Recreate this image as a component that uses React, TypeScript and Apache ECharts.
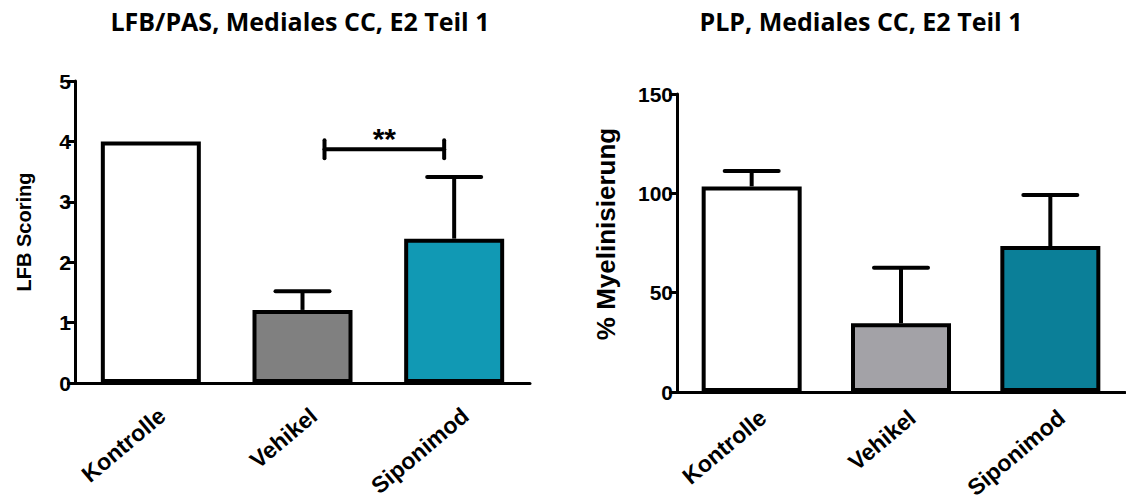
import React, { useEffect, useRef } from 'react';
import * as echarts from 'echarts';

const categories = ['Kontrolle', 'Vehikel', 'Siponimod'];

const lfbTitle = 'LFB/PAS, Mediales CC, E2 Teil 1';
const lfbAxisName = 'LFB Scoring';
const lfbMeans = [4, 1.21, 2.39];
const lfbErrors = [0, 0.31, 1.02];
const lfbColors = ['#ffffff', '#808080', '#1199b4'];
const lfbMin = 0;
const lfbMax = 5;
const lfbInterval = 1;

const sigPair = [1, 2];
const sigLevel = 3.87;
const sigLabel = '**';

const plpTitle = 'PLP, Mediales CC, E2 Teil 1';
const plpAxisName = '% Myelinisierung';
const plpMeans = [103.5, 34.6, 73.5];
const plpErrors = [7.7, 27.9, 25.6];
const plpColors = ['#ffffff', '#a3a2a7', '#0b7f98'];
const plpMin = 0;
const plpMax = 150;
const plpInterval = 50;

const FONT = 'Liberation Sans, Arial, sans-serif';

function errorRender(params: any, api: any) {
  const idx = api.value(0);
  const mean = api.value(1);
  const top = api.value(2);
  if (top <= mean) return { type: 'group', children: [] };
  const p0 = api.coord([idx, mean]);
  const p1 = api.coord([idx, top]);
  const half = 27;
  const style = { stroke: '#000', lineWidth: 4, lineCap: 'round' };
  return {
    type: 'group',
    children: [
      { type: 'line', shape: { x1: p0[0], y1: p0[1], x2: p1[0], y2: p1[1] }, style: { stroke: '#000', lineWidth: 4 } },
      { type: 'line', shape: { x1: p1[0] - half, y1: p1[1], x2: p1[0] + half, y2: p1[1] }, style },
    ],
  };
}

function sigRender(params: any, api: any) {
  const a = api.coord([api.value(0), api.value(2)]);
  const b = api.coord([api.value(1), api.value(2)]);
  const x1 = a[0] + 22;
  const x2 = b[0] - 10;
  const y = a[1];
  const style = { stroke: '#000', lineWidth: 4, lineCap: 'round' };
  return {
    type: 'group',
    children: [
      { type: 'line', shape: { x1, y1: y, x2, y2: y }, style },
      { type: 'line', shape: { x1, y1: y - 9, x2: x1, y2: y + 9 }, style },
      { type: 'line', shape: { x1: x2, y1: y - 9, x2, y2: y + 9 }, style },
      {
        type: 'text',
        style: {
          text: sigLabel,
          x: (x1 + x2) / 2,
          y: y - 26,
          textAlign: 'center',
          textVerticalAlign: 'top',
          font: 'bold 30px ' + FONT,
          fill: '#000',
        },
      },
    ],
  };
}

function makeX(gridIndex: number, margin: number) {
  return {
    type: 'category',
    gridIndex,
    data: categories,
    axisLine: { lineStyle: { color: '#000', width: 3 } },
    axisTick: { alignWithLabel: true, length: 8, lineStyle: { color: '#000', width: 3 } },
    axisLabel: {
      rotate: 40,
      margin,
      verticalAlign: 'top',
      padding: [6, 0, 0, 0],
      color: '#000',
      fontFamily: FONT,
      fontWeight: 'bold',
      fontSize: 23,
      interval: 0,
    },
    splitLine: { show: false },
  };
}

function makeY(gridIndex: number, name: string, min: number, max: number, interval: number, nameGap: number, nameSize: number, namePad: number[]) {
  return {
    type: 'value',
    gridIndex,
    min,
    max,
    interval,
    name,
    nameLocation: 'middle',
    nameGap,
    nameTextStyle: { color: '#000', fontFamily: FONT, fontWeight: 'bold', fontSize: nameSize, padding: namePad },
    axisLine: { show: true, lineStyle: { color: '#000', width: 3 } },
    axisTick: { show: true, length: 8, lineStyle: { color: '#000', width: 3 } },
    axisLabel: { margin: 4, color: '#000', fontFamily: FONT, fontWeight: 'bold', fontSize: 21 },
    splitLine: { show: false },
  };
}

function barData(means: number[], colors: string[]) {
  return means.map((v, i) => ({ value: v, itemStyle: { color: colors[i] } }));
}

function errData(means: number[], errs: number[]) {
  return means.map((m, i) => [i, m, m + errs[i]]);
}

export default function App() {
  const ref = useRef<HTMLDivElement>(null);
  useEffect(() => {
    document.body.style.margin = '0';
    const chart = echarts.init(ref.current!, null, { renderer: 'svg' });
    chart.setOption({
      animation: false,
      backgroundColor: '#ffffff',
      grid: [
        { left: 75, top: 81, width: 455, height: 302, outerBoundsMode: 'none', containLabel: false },
        { left: 677, top: 94, width: 448, height: 298, outerBoundsMode: 'none', containLabel: false },
      ],
      xAxis: [makeX(0, 16), makeX(1, 9)],
      yAxis: [
        makeY(0, lfbAxisName, lfbMin, lfbMax, lfbInterval, 41, 20, [0, 0, 0, 0]),
        makeY(1, plpAxisName, plpMin, plpMax, plpInterval, 58, 26, [0, 0, 0, 18]),
      ],
      graphic: [
        {
          type: 'text',
          style: { text: lfbTitle, x: 300, y: 8, textAlign: 'center', font: 'bold 25px "Open Sans", sans-serif', fill: '#000' },
        },
        {
          type: 'text',
          style: { text: plpTitle, x: 861, y: 8, textAlign: 'center', font: 'bold 25px "Open Sans", sans-serif', fill: '#000' },
        },
      ],
      series: [
        {
          type: 'bar',
          xAxisIndex: 0,
          yAxisIndex: 0,
          barWidth: 100,
          data: barData(lfbMeans, lfbColors),
          itemStyle: { borderColor: '#000', borderWidth: 4 },
          z: 2,
        },
        {
          type: 'custom',
          xAxisIndex: 0,
          yAxisIndex: 0,
          renderItem: errorRender,
          data: errData(lfbMeans, lfbErrors),
          z: 3,
        },
        {
          type: 'custom',
          xAxisIndex: 0,
          yAxisIndex: 0,
          renderItem: sigRender,
          data: [[sigPair[0], sigPair[1], sigLevel]],
          z: 3,
        },
        {
          type: 'bar',
          xAxisIndex: 1,
          yAxisIndex: 1,
          barWidth: 100,
          data: barData(plpMeans, plpColors),
          itemStyle: { borderColor: '#000', borderWidth: 4 },
          z: 2,
        },
        {
          type: 'custom',
          xAxisIndex: 1,
          yAxisIndex: 1,
          renderItem: errorRender,
          data: errData(plpMeans, plpErrors),
          z: 3,
        },
      ],
    });
    return () => chart.dispose();
  }, []);
  return <div ref={ref} style={{ width: 1126, height: 504 }} />;
}
